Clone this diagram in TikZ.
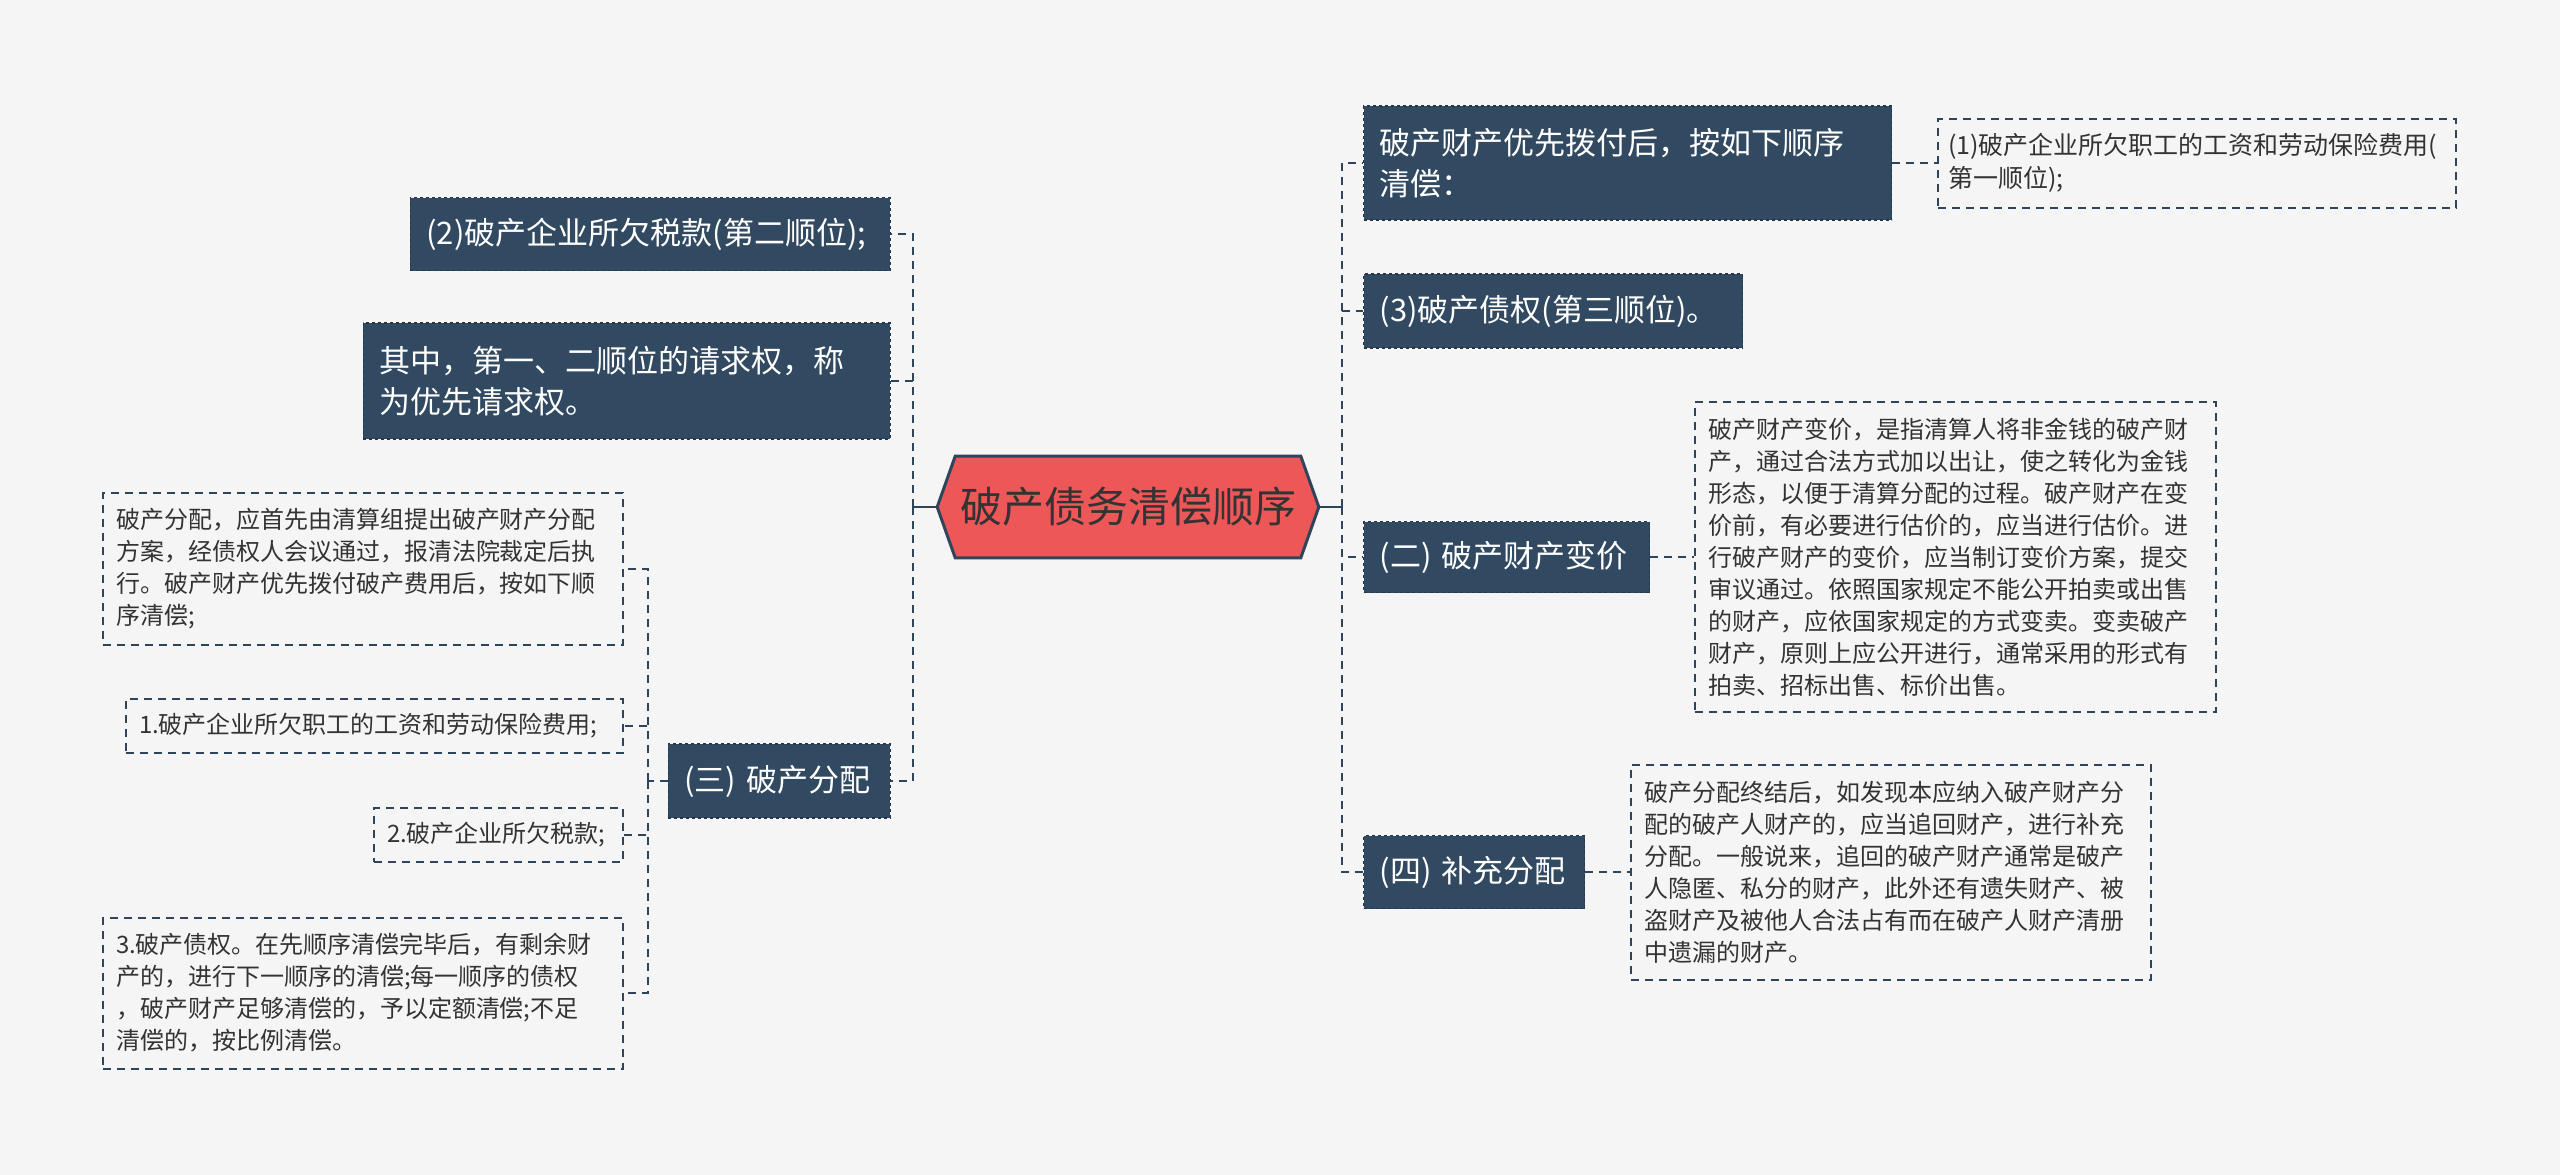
\documentclass[tikz,border=0pt]{standalone}
\usepackage{fontspec}
\newfontfamily\cjk{Noto Sans CJK SC}
\usetikzlibrary{positioning,calc}
\usetikzlibrary{backgrounds}

\definecolor{boxblue}{HTML}{324A61}
\definecolor{rootred}{HTML}{EE5757}
\definecolor{linecol}{HTML}{2F455C}
\definecolor{bgcol}{HTML}{F5F5F5}
\definecolor{txtcol}{HTML}{333333}

\begin{document}
\begin{tikzpicture}[x = 1pt, y = -1pt, semithick]
\tikzstyle{topic}=[
  fill = boxblue,
  draw = boxblue!75!black,
  dashed,
  line width = 1.2pt,
  text = white,
  font = \cjk\fontsize{31}{41}\selectfont,
  align = left,
  inner xsep = 16pt,
  inner ysep = 0pt
]
\tikzstyle{note}=[
  draw = linecol,
  dash pattern = on 8pt off 6pt,
  line width = 2pt,
  text = txtcol,
  font = \cjk\fontsize{24}{32}\selectfont,
  align = left,
  inner xsep = 13pt,
  inner ysep = 0pt
]
\tikzstyle{link}=[draw = linecol, line width = 2.4pt, dash pattern = on 8pt off 6pt]

\useasboundingbox (0, 0) rectangle (2560, 1175);

\node[font = \cjk\fontsize{42}{50}\selectfont, text = txtcol, minimum width = 345pt, minimum height = 101pt, inner sep = 0pt] (root) at (1128, 507) {破产债务清偿顺序};

% right side
\node[topic, anchor = west, text width = 496pt, minimum height = 114pt] (R1) at (1363, 163) {破产财产优先拨付后，按如下顺序\\清偿：};
\node[topic, anchor = west, text width = 347pt, minimum height = 74pt] (R2) at (1363, 311) {(3)破产债权(第三顺位)。};
\node[topic, anchor = west, text width = 254pt, minimum height = 71pt] (R3) at (1363, 557) {(二) 破产财产变价};
\node[topic, anchor = west, text width = 189pt, minimum height = 73pt] (R4) at (1363, 872) {(四) 补充分配};

\node[note, font = \cjk\fontsize{25}{33}\selectfont, inner xsep = 10pt, text width = 498pt, minimum height = 89pt, right = 45pt of R1] (R1n) {(1)破产企业所欠职工的工资和劳动保险费用(\\第一顺位);};
\node[note, text width = 495pt, minimum height = 310pt, right = 44pt of R3] (R3n) {破产财产变价，是指清算人将非金钱的破产财\\产，通过合法方式加以出让，使之转化为金钱\\形态，以便于清算分配的过程。破产财产在变\\价前，有必要进行估价的，应当进行估价。进\\行破产财产的变价，应当制订变价方案，提交\\审议通过。依照国家规定不能公开拍卖或出售\\的财产，应依国家规定的方式变卖。变卖破产\\财产，原则上应公开进行，通常采用的形式有\\拍卖、招标出售、标价出售。};
\node[note, text width = 494pt, minimum height = 215pt, right = 45pt of R4] (R4n) {破产分配终结后，如发现本应纳入破产财产分\\配的破产人财产的，应当追回财产，进行补充\\分配。一般说来，追回的破产财产通常是破产\\人隐匿、私分的财产，此外还有遗失财产、被\\盗财产及被他人合法占有而在破产人财产清册\\中遗漏的财产。};

% left side
\node[topic, anchor = east, text width = 448pt, minimum height = 73pt] (L1) at (891, 234) {(2)破产企业所欠税款(第二顺位);};
\node[topic, anchor = east, text width = 495pt, minimum height = 116pt] (L2) at (891, 381) {其中，第一、二顺位的请求权，称\\为优先请求权。};
\node[topic, anchor = east, text width = 190pt, minimum height = 74pt] (L3) at (891, 781) {(三) 破产分配};

\node[note, anchor = east, text width = 494pt, minimum height = 152pt] (LL0) at (624, 569) {破产分配，应首先由清算组提出破产财产分配\\方案，经债权人会议通过，报清法院裁定后执\\行。破产财产优先拨付破产费用后，按如下顺\\序清偿;};
\node[note, anchor = east, text width = 471pt, minimum height = 54pt] (LL1) at (624, 726) {1.破产企业所欠职工的工资和劳动保险费用;};
\node[note, anchor = east, text width = 223pt, minimum height = 54pt] (LL2) at (624, 835) {2.破产企业所欠税款;};
\node[note, anchor = east, text width = 494pt, minimum height = 151pt] (LL3) at (624, 993) {3.破产债权。在先顺序清偿完毕后，有剩余财\\产的，进行下一顺序的清偿;每一顺序的债权\\，破产财产足够清偿的，予以定额清偿;不足\\清偿的，按比例清偿。};

\coordinate (jr) at (1342, 507);
\coordinate (jl) at (913, 507);
\coordinate (jd) at (648, 781);

\begin{scope}[on background layer]
\fill[bgcol] (0, 0) rectangle (2560, 1175);
\filldraw[fill = rootred, draw = linecol, line width = 3pt, line join = miter]
  ([xshift = -18pt]root.west) -- (root.north west) -- (root.north east)
  -- ([xshift = 18pt]root.east) -- (root.south east) -- (root.south west) -- cycle;
\end{scope}

\draw[linecol, line width = 2.4pt] ([xshift = 18pt]root.east) -- (jr);
\draw[linecol, line width = 2.4pt] ([xshift = -18pt]root.west) -- (jl);

\draw[link] (jr) |- (R1.west);
\draw[link] (jr) |- (R2.west);
\draw[link] (jr) |- (R3.west);
\draw[link] (jr) |- (R4.west);
\draw[link] (R1.east) -- (R1n.west);
\draw[link] (R3.east) -- (R3n.west);
\draw[link] (R4.east) -- (R4n.west);

\draw[link] (jl) |- (L1.east);
\draw[link] (jl) |- (L2.east);
\draw[link] (jl) |- (L3.east);
\draw[link] (L3.west) -- (jd);
\draw[link] (jd) |- (LL0.east);
\draw[link] (jd) |- (LL1.east);
\draw[link] (jd) |- (LL2.east);
\draw[link] (jd) |- (LL3.east);
\end{tikzpicture}
\end{document}
